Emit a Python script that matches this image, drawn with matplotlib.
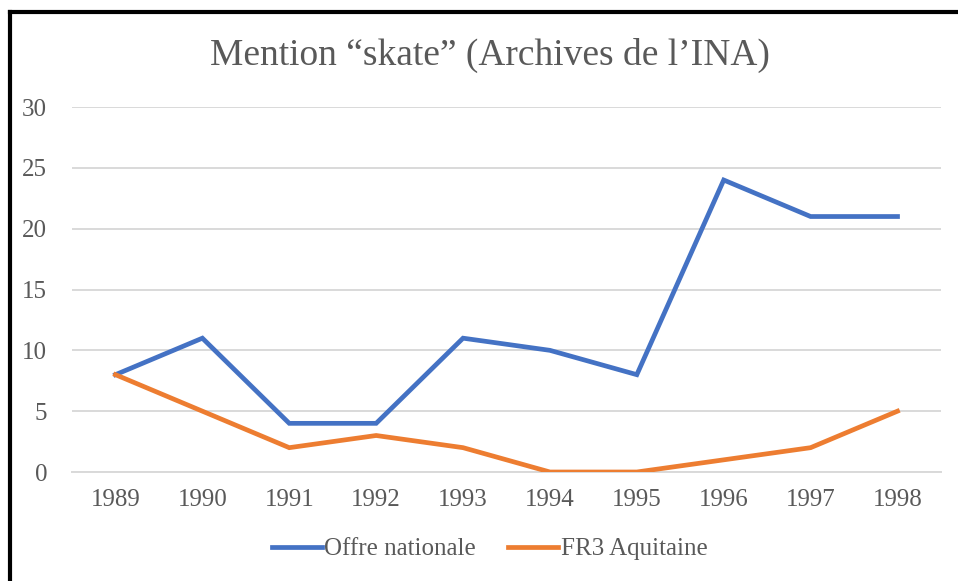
import matplotlib.pyplot as plt
from matplotlib.lines import Line2D

# Data
years = ["1989", "1990", "1991", "1992", "1993", "1994", "1995", "1996", "1997", "1998"]
offre_nationale = [8, 11, 4, 4, 11, 10, 8, 24, 21, 21]
fr3_aquitaine = [8, 5, 2, 3, 2, 0, 0, 1, 2, 5]

plt.rcParams['font.family'] = ['Liberation Serif', 'DejaVu Serif']
grey_text = "#595959"

fig = plt.figure(figsize=(9.58, 5.81), dpi=100)
ax = fig.add_axes([0.0752, 0.1876, 0.907, 0.6282])

x = range(len(years))
ax.plot(x, offre_nationale, color="#4472C4", linewidth=3.4, label="Offre nationale",
        solid_joinstyle="miter", zorder=3)
ax.plot(x, fr3_aquitaine, color="#ED7D31", linewidth=3.4, label="FR3 Aquitaine",
        solid_joinstyle="miter", zorder=3)

ax.set_xlim(-0.5, len(years) - 0.5)
ax.set_ylim(0, 30)
ax.set_yticks(range(0, 31, 5))
ax.set_xticks(list(x))
ax.set_xticklabels(years)

ax.grid(axis="y", color="#D9D9D9", linewidth=1.4)
ax.set_axisbelow(True)
for s in ["top", "right", "left"]:
    ax.spines[s].set_visible(False)
ax.spines["bottom"].set_color("#D9D9D9")
ax.spines["bottom"].set_linewidth(1.4)
ax.tick_params(axis="both", length=0, labelsize=18, labelcolor=grey_text)
ax.tick_params(axis="x", pad=12)
ax.tick_params(axis="y", pad=18)

fig.text(0.511, 0.905, "Mention \u201cskate\u201d (Archives de l\u2019INA)", ha="center", va="center",
         fontsize=27, color=grey_text)

leg = fig.legend(loc="center", bbox_to_anchor=(0.511, 0.055), ncol=2, frameon=False,
                 fontsize=18, handlelength=2.0, handletextpad=0.1, columnspacing=1.3)
for t in leg.get_texts():
    t.set_color(grey_text)

# black frame (top and left only visible)
fig.add_artist(Line2D([0.0105, 1.0], [0.979, 0.979], color="black", linewidth=3,
                      transform=fig.transFigure))
fig.add_artist(Line2D([0.0105, 0.0105], [0.0, 0.979], color="black", linewidth=3,
                      transform=fig.transFigure))

plt.savefig("out.png", dpi=100)
plt.close()
